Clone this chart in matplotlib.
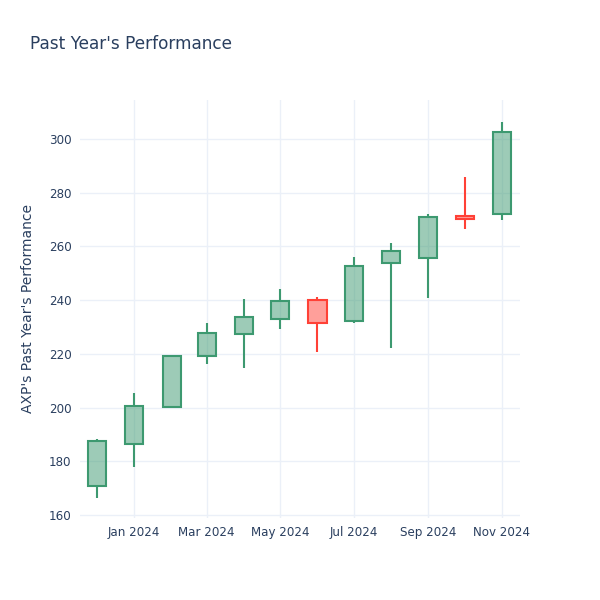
import datetime as dt
import matplotlib
matplotlib.use("Agg")
import matplotlib.pyplot as plt
import matplotlib.dates as mdates

months = ["2023-12-01", "2024-01-01", "2024-02-01", "2024-03-01", "2024-04-01", "2024-05-01",
          "2024-06-01", "2024-07-01", "2024-08-01", "2024-09-01", "2024-10-01", "2024-11-01"]
opens = [170.8, 186.5, 200.3, 219.2, 227.4, 233.0, 240.0, 232.2, 253.7, 255.6, 271.2, 272.1]
highs = [188.3, 205.3, 219.5, 231.6, 240.3, 244.1, 241.0, 256.0, 261.4, 272.1, 286.0, 306.4]
lows = [166.3, 178.0, 200.1, 216.1, 214.6, 229.2, 220.8, 231.6, 222.0, 240.7, 266.3, 269.8]
closes = [187.5, 200.7, 219.3, 227.6, 233.8, 239.8, 231.6, 252.8, 258.3, 271.1, 270.1, 302.5]

up_color = "#3D9970"
down_color = "#FF4136"
text_color = "#2a3f5f"
grid_color = "#EBF0F8"

fig = plt.figure(figsize=(6, 6), dpi=100)
ax = fig.add_axes([80 / 600, 82.4 / 600, 440 / 600, 417.6 / 600])

dates = [mdates.date2num(dt.datetime.strptime(m, "%Y-%m-%d")) for m in months]
width = 15
for x, o, h, l, c in zip(dates, opens, highs, lows, closes):
    col = up_color if c >= o else down_color
    lo_b, hi_b = min(o, c), max(o, c)
    ax.vlines(x, l, lo_b, color=col, lw=1.5, zorder=3)
    ax.vlines(x, hi_b, h, color=col, lw=1.5, zorder=3)
    ax.bar(x, hi_b - lo_b, bottom=lo_b, width=width, facecolor=col, alpha=0.5,
           edgecolor="none", zorder=3)
    ax.bar(x, hi_b - lo_b, bottom=lo_b, width=width, facecolor="none",
           edgecolor=col, linewidth=1.5, zorder=4)

ax.set_xlim(mdates.date2num(dt.datetime(2023, 11, 17)), mdates.date2num(dt.datetime(2024, 11, 16)))
ax.set_ylim(159.03, 314.5)
ax.set_yticks(range(160, 301, 20))
ticks = [dt.datetime(2024, m, 1) for m in (1, 3, 5, 7, 9, 11)]
ax.set_xticks([mdates.date2num(t) for t in ticks])
ax.set_xticklabels([t.strftime("%b %Y") for t in ticks])

ax.grid(True, color=grid_color, lw=1)
ax.set_axisbelow(True)
for s in ax.spines.values():
    s.set_visible(False)
ax.tick_params(colors=text_color, labelsize=8.6, length=0, pad=6)

ax.set_ylabel("AXP's Past Year's Performance", color=text_color, fontsize=10)
ax.yaxis.set_label_coords(-45 / 440, 0.5)
fig.text(30 / 600, 1 - 44 / 600, "Past Year's Performance", color=text_color,
         fontsize=12.2, va="center", ha="left")

fig.savefig("out.png", dpi=100, facecolor="white")
